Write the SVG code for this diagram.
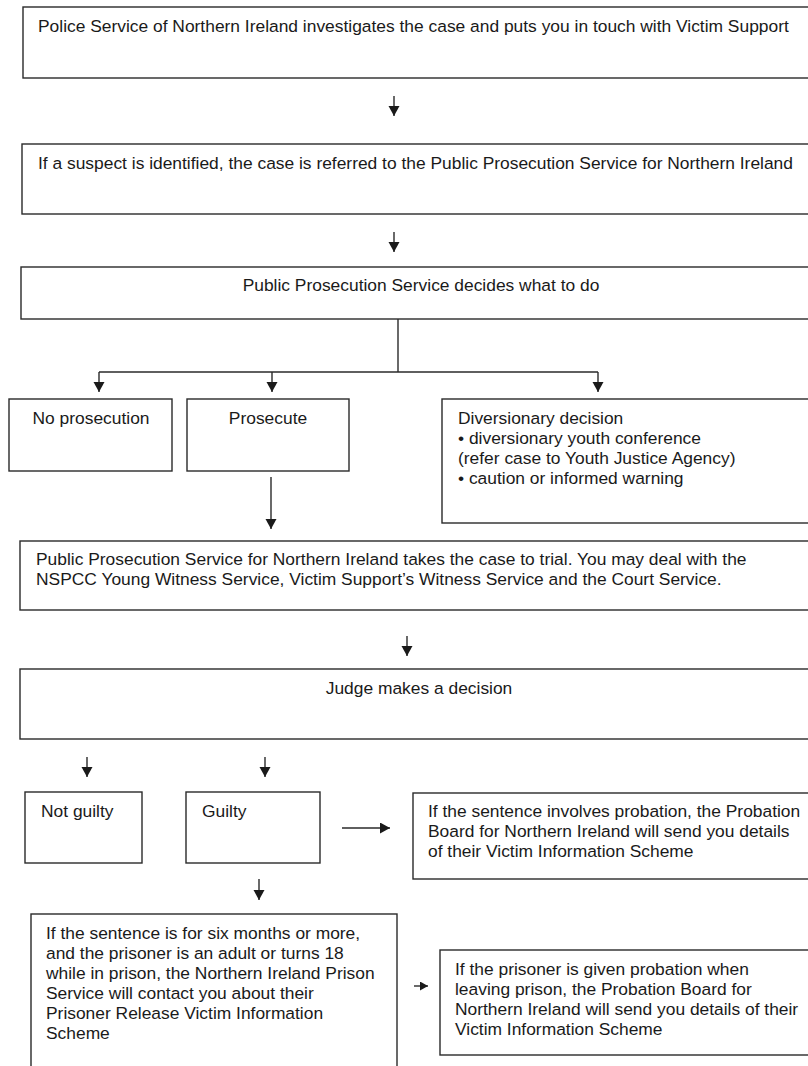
<svg xmlns="http://www.w3.org/2000/svg" width="808" height="1066" viewBox="0 0 808 1066">
<defs>
<style>
.box{fill:none;stroke:#2a2a2a;stroke-width:1.4}
.ln{fill:none;stroke:#2a2a2a;stroke-width:1.4}
text{font-family:"Liberation Sans",Arial,sans-serif;font-size:17.4px;fill:#1a1a1a}
.c{text-anchor:middle}
</style>
<marker id="ah" markerUnits="userSpaceOnUse" markerWidth="12" markerHeight="12" refX="10" refY="5.5" orient="auto">
<path d="M0,0 L10,5.5 L0,11 Z" fill="#1a1a1a"/>
</marker>
<marker id="ahs" markerUnits="userSpaceOnUse" markerWidth="10" markerHeight="10" refX="8" refY="4.5" orient="auto">
<path d="M0,0 L8,4.5 L0,9 Z" fill="#1a1a1a"/>
</marker>
</defs>
<rect width="808" height="1066" fill="#ffffff"/>

<g id="connectors">
<line class="ln" x1="394" y1="96" x2="394" y2="116" marker-end="url(#ah)"/>
<line class="ln" x1="394" y1="232" x2="394" y2="252" marker-end="url(#ah)"/>
<polyline class="ln" points="398,319 398,372"/>
<polyline class="ln" points="99,372 598,372"/>
<line class="ln" x1="99" y1="372" x2="99" y2="392" marker-end="url(#ah)"/>
<line class="ln" x1="272" y1="372" x2="272" y2="392" marker-end="url(#ah)"/>
<line class="ln" x1="598" y1="372" x2="598" y2="392" marker-end="url(#ah)"/>
<line class="ln" x1="271" y1="477" x2="271" y2="529" marker-end="url(#ah)"/>
<line class="ln" x1="407" y1="636" x2="407" y2="656" marker-end="url(#ah)"/>
<line class="ln" x1="87" y1="757" x2="87" y2="777" marker-end="url(#ah)"/>
<line class="ln" x1="265" y1="757" x2="265" y2="777" marker-end="url(#ah)"/>
<line class="ln" x1="342" y1="828" x2="390" y2="828" marker-end="url(#ah)"/>
<line class="ln" x1="259" y1="879" x2="259" y2="900" marker-end="url(#ah)"/>
<line class="ln" x1="414" y1="986" x2="428" y2="986" marker-end="url(#ahs)"/>
</g>

<g id="n1">
<rect class="box" x="23" y="7" width="800" height="71"/>
<text x="38" y="32">Police Service of Northern Ireland investigates the case and puts you in touch with Victim Support</text>
</g>
<g id="n2">
<rect class="box" x="22" y="144" width="800" height="70"/>
<text x="38" y="169">If a suspect is identified, the case is referred to the Public Prosecution Service for Northern Ireland</text>
</g>
<g id="n3">
<rect class="box" x="21" y="267" width="801" height="52"/>
<text class="c" x="421" y="291">Public Prosecution Service decides what to do</text>
</g>
<g id="n4">
<rect class="box" x="9" y="399" width="163" height="72"/>
<text class="c" x="91" y="424">No prosecution</text>
</g>
<g id="n5">
<rect class="box" x="187" y="399" width="162" height="72"/>
<text class="c" x="268" y="424">Prosecute</text>
</g>
<g id="n6">
<rect class="box" x="442" y="399" width="380" height="124"/>
<text x="458" y="424">Diversionary decision</text>
<text x="458" y="444">• diversionary youth conference</text>
<text x="458" y="464">(refer case to Youth Justice Agency)</text>
<text x="458" y="484">• caution or informed warning</text>
</g>
<g id="n7">
<rect class="box" x="20" y="541" width="802" height="69"/>
<text x="36" y="565">Public Prosecution Service for Northern Ireland takes the case to trial. You may deal with the</text>
<text x="36" y="585">NSPCC Young Witness Service, Victim Support’s Witness Service and the Court Service.</text>
</g>
<g id="n8">
<rect class="box" x="20" y="669" width="802" height="70"/>
<text class="c" x="419" y="694">Judge makes a decision</text>
</g>
<g id="n9">
<rect class="box" x="25" y="792" width="117" height="71"/>
<text x="41" y="817">Not guilty</text>
</g>
<g id="n10">
<rect class="box" x="186" y="792" width="134" height="71"/>
<text x="202" y="817">Guilty</text>
</g>
<g id="n11">
<rect class="box" x="413" y="793" width="410" height="86"/>
<text x="428" y="817">If the sentence involves probation, the Probation</text>
<text x="428" y="837">Board for Northern Ireland will send you details</text>
<text x="428" y="857">of their Victim Information Scheme</text>
</g>
<g id="n12">
<rect class="box" x="31" y="914" width="366" height="170"/>
<text x="46" y="939">If the sentence is for six months or more,</text>
<text x="46" y="959">and the prisoner is an adult or turns 18</text>
<text x="46" y="979">while in prison, the Northern Ireland Prison</text>
<text x="46" y="999">Service will contact you about their</text>
<text x="46" y="1019">Prisoner Release Victim Information</text>
<text x="46" y="1039">Scheme</text>
</g>
<g id="n13">
<rect class="box" x="440" y="950" width="383" height="105"/>
<text x="455" y="975">If the prisoner is given probation when</text>
<text x="455" y="995">leaving prison, the Probation Board for</text>
<text x="455" y="1015">Northern Ireland will send you details of their</text>
<text x="455" y="1035">Victim Information Scheme</text>
</g>
</svg>
